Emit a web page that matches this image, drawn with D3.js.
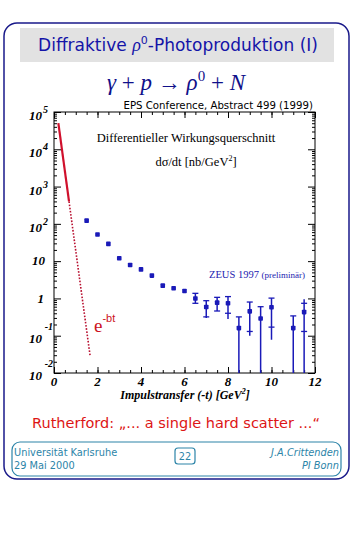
<!DOCTYPE html>
<html>
<head>
<meta charset="utf-8">
<script src="https://cdn.jsdelivr.net/npm/d3@7.9.0/dist/d3.min.js"></script>
<style>
  body { margin: 0; background: #fff; }
  svg { display: block; }
</style>
</head>
<body>
<svg id="slide" width="363" height="535"></svg>
<script>
// ZEUS 1997 (preliminary) rho0 photoproduction, d sigma/dt vs -t
const tValues = [1.5, 2.0, 2.5, 3.0, 3.5, 4.0, 4.5, 5.0, 5.5, 6.0, 6.5, 7.0, 7.5, 8.0, 8.5, 9.0, 9.5, 10.0, 11.0, 11.5];
const sigma   = [122, 52, 29, 12, 7.9, 6.0, 4.1, 2.2, 1.87, 1.58, 1.0, 0.59, 0.77, 0.74, 0.16, 0.45, 0.29, 0.58, 0.16, 0.43];
// statistical error band (inner ticks)
const statHi  = [128, 55, 31, 12.8, 8.4, 6.4, 4.6, 2.6, 2.15, 1.85, 1.37, 0.87, 1.07, 1.12, 0.32, 0.80, 0.60, 1.02, 0.34, 0.74];
const statLo  = [116, 49, 27, 11.2, 7.4, 5.6, 3.6, 1.85, 1.6, 1.32, 0.74, 0.32, 0.46, 0.40, 0.001, 0.13, 0.001, 0.17, 0.001, 0.13];
// total error (line extent)
const totHi   = [128, 55, 31, 12.8, 8.4, 6.4, 4.6, 2.6, 2.15, 1.85, 1.37, 0.87, 1.07, 1.12, 0.32, 0.80, 0.60, 1.02, 0.34, 0.95];
const totLo   = [116, 49, 27, 11.2, 7.4, 5.6, 3.6, 1.85, 1.6, 1.32, 0.74, 0.30, 0.46, 0.28, 0.001, 0.10, 0.001, 0.078, 0.001, 0.001];

// exponential e^-bt
const expSolid  = [[0.2, 50000], [0.69, 400]];
const expDotted = [[0.69, 400], [1.66, 0.029]];

const yExponents = [5, 4, 3, 2, 1, 0, -1, -2];
const xTickLabels = [0, 2, 4, 6, 8, 10, 12];

const svg = d3.select('#slide');
const darkBlue = '#1a1a8a';
const teal = '#2c84a8';

// slide frame
svg.append('rect')
  .attr('x', 4).attr('y', 23).attr('width', 345).attr('height', 456)
  .attr('rx', 13).attr('fill', 'none')
  .attr('stroke', darkBlue).attr('stroke-width', 1.5);

// title bar
svg.append('rect')
  .attr('x', 20).attr('y', 28).attr('width', 314).attr('height', 34)
  .attr('fill', '#e2e2e2');
const title = svg.append('text')
  .attr('x', 178).attr('y', 51).attr('text-anchor', 'middle')
  .attr('font-family', 'DejaVu Sans').attr('font-size', 17)
  .attr('fill', '#1414a8');
title.append('tspan').text('Diffraktive ');
title.append('tspan').attr('font-family', 'Liberation Serif').attr('font-style', 'italic').attr('font-size', 18).text('ρ');
title.append('tspan').attr('font-size', 11).attr('dy', -7).text('0');
title.append('tspan').attr('dy', 7).text('-Photoproduktion (I)');

// reaction formula
const formula = svg.append('text')
  .attr('x', 176).attr('y', 90).attr('text-anchor', 'middle')
  .attr('font-family', 'Liberation Serif').attr('font-size', 23)
  .attr('fill', '#10108a');
formula.append('tspan').attr('font-style', 'italic').text('γ');
formula.append('tspan').text(' + ');
formula.append('tspan').attr('font-style', 'italic').text('p');
formula.append('tspan').text(' → ');
formula.append('tspan').attr('font-style', 'italic').text('ρ');
formula.append('tspan').attr('font-size', 15).attr('dy', -9).text('0');
formula.append('tspan').attr('dy', 9).text(' + ');
formula.append('tspan').attr('font-style', 'italic').text('N');

// plot
const x = d3.scaleLinear().domain([0, 12]).range([54, 315]);
const y = d3.scaleLog().domain([1e-2, 1e5]).range([373, 112]).clamp(true);

const plot = svg.append('g');

// minor/major ticks
const xMinor = d3.range(0, 12.01, 0.5);
const xMajor = xMinor.filter(v => v % 2 === 0);
const yMajor = yExponents.map(e => Math.pow(10, e));
const yMinor = [];
for (let e = -2; e < 5; e++) for (let k = 2; k <= 9; k++) yMinor.push(k * Math.pow(10, e));

const tickGroup = (axis, transform) => {
  const g = plot.append('g').attr('transform', transform).call(axis);
  g.select('.domain').remove();
  g.selectAll('text').remove();
  g.selectAll('line').attr('stroke', '#000').attr('stroke-width', 1);
  return g;
};

tickGroup(d3.axisBottom(x).tickValues(xMinor).tickSize(-3), `translate(0,${y(1e-2)})`);
tickGroup(d3.axisBottom(x).tickValues(xMajor).tickSize(-6), `translate(0,${y(1e-2)})`);
tickGroup(d3.axisTop(x).tickValues(xMinor).tickSize(-3), `translate(0,${y(1e5)})`);
tickGroup(d3.axisTop(x).tickValues(xMajor).tickSize(-6), `translate(0,${y(1e5)})`);
tickGroup(d3.axisLeft(y).tickValues(yMinor).tickSize(-3), `translate(${x(0)},0)`);
tickGroup(d3.axisLeft(y).tickValues(yMajor).tickSize(-7), `translate(${x(0)},0)`);
tickGroup(d3.axisRight(y).tickValues(yMinor).tickSize(-3), `translate(${x(12)},0)`);
tickGroup(d3.axisRight(y).tickValues(yMajor).tickSize(-7), `translate(${x(12)},0)`);

plot.append('rect')
  .attr('x', x(0)).attr('y', y(1e5))
  .attr('width', x(12) - x(0)).attr('height', y(1e-2) - y(1e5))
  .attr('fill', 'none').attr('stroke', '#000').attr('stroke-width', 1);

// y labels
const labelFont = 'Liberation Serif';
yExponents.forEach(e => {
  const ty = y(Math.pow(10, e));
  const t = plot.append('text')
    .attr('font-family', labelFont).attr('font-weight', 'bold').attr('font-style', 'italic')
    .attr('font-size', 13).attr('fill', '#000');
  if (e >= 2) {
    t.attr('x', 42).attr('y', ty + 8).attr('text-anchor', 'end').text('10');
    plot.append('text')
      .attr('x', 43).attr('y', ty + 1)
      .attr('font-family', labelFont).attr('font-style', 'italic').attr('font-weight', 'bold')
      .attr('font-size', 10).text(e);
  } else if (e === 1) {
    t.attr('x', 45).attr('y', ty + 4).attr('text-anchor', 'end').text('10');
  } else if (e === 0) {
    t.attr('x', 44).attr('y', ty + 5).attr('text-anchor', 'end').text('1');
  } else {
    t.attr('x', 42).attr('y', ty + 7).attr('text-anchor', 'end').text('10');
    plot.append('text')
      .attr('x', 53).attr('y', ty - 6).attr('text-anchor', 'end')
      .attr('font-family', labelFont).attr('font-style', 'italic').attr('font-weight', 'bold')
      .attr('font-size', 10).text(e);
  }
});

// x labels
plot.selectAll('.xlab').data(xTickLabels).join('text')
  .attr('x', d => x(d)).attr('y', 386)
  .attr('text-anchor', 'middle')
  .attr('font-family', labelFont).attr('font-weight', 'bold').attr('font-style', 'italic')
  .attr('font-size', 13).text(d => d);

const xTitle = plot.append('text')
  .attr('x', 185).attr('y', 399).attr('text-anchor', 'middle')
  .attr('font-family', labelFont).attr('font-weight', 'bold').attr('font-style', 'italic')
  .attr('font-size', 12);
xTitle.append('tspan').text('Impulstransfer (-t) [GeV');
xTitle.append('tspan').attr('font-size', 8).attr('dy', -5).text('2');
xTitle.append('tspan').attr('dy', 5).text(']');

// header text above frame
plot.append('text')
  .attr('x', 313).attr('y', 109).attr('text-anchor', 'end')
  .attr('font-family', 'DejaVu Sans').attr('font-size', 10.2)
  .text('EPS Conference, Abstract 499 (1999)');

plot.append('text')
  .attr('x', 186).attr('y', 142).attr('text-anchor', 'middle')
  .attr('font-family', labelFont).attr('font-size', 12.5)
  .text('Differentieller Wirkungsquerschnitt');
const dsig = plot.append('text')
  .attr('x', 196).attr('y', 166).attr('text-anchor', 'middle')
  .attr('font-family', labelFont).attr('font-size', 12.5);
dsig.append('tspan').text('dσ/dt [nb/GeV');
dsig.append('tspan').attr('font-size', 8).attr('dy', -5).text('2');
dsig.append('tspan').attr('dy', 5).text(']');

const zeus = plot.append('text')
  .attr('x', 209).attr('y', 278)
  .attr('font-family', labelFont).attr('font-size', 10.5).attr('fill', '#1c1cb0');
zeus.append('tspan').text('ZEUS 1997 ');
zeus.append('tspan').attr('font-size', 9).text('(preliminär)');

// exponential line
const line = d3.line().x(d => x(d[0])).y(d => y(d[1]));
plot.append('path').attr('d', line(expSolid))
  .attr('fill', 'none').attr('stroke', '#d0102c').attr('stroke-width', 2.2);
plot.append('path').attr('d', line(expDotted))
  .attr('fill', 'none').attr('stroke', '#b81030').attr('stroke-width', 1.6)
  .attr('stroke-dasharray', '1.6,1.6');

const ebt = plot.append('text')
  .attr('x', 94).attr('y', 332)
  .attr('font-family', labelFont).attr('font-size', 19).attr('fill', '#cc1122');
ebt.append('tspan').text('e');
ebt.append('tspan').attr('font-family', 'Liberation Sans').attr('font-size', 11).attr('dy', -10).text('-bt');

// data points
const pts = tValues.map((t, i) => ({
  t, v: sigma[i], sh: statHi[i], sl: statLo[i], th: totHi[i], tl: totLo[i]
}));
const blue = '#1a1ab8';
const pg = plot.append('g');
pts.forEach(d => {
  const cx = x(d.t);
  if (y(d.tl) - y(d.th) > 6) {
    pg.append('line')
      .attr('x1', cx).attr('x2', cx).attr('y1', y(d.th)).attr('y2', y(d.tl))
      .attr('stroke', blue).attr('stroke-width', 1.5);
    [d.sh, d.sl].forEach(v => {
      if (v > 0.011) {
        pg.append('line')
          .attr('x1', cx - 3).attr('x2', cx + 3).attr('y1', y(v)).attr('y2', y(v))
          .attr('stroke', blue).attr('stroke-width', 1.3);
      }
    });
  }
  pg.append('rect')
    .attr('x', cx - 2.3).attr('y', y(d.v) - 2.3).attr('width', 4.6).attr('height', 4.6)
    .attr('rx', 0.8).attr('fill', blue);
});

// Rutherford quote
svg.append('text')
  .attr('x', 176).attr('y', 428).attr('text-anchor', 'middle')
  .attr('font-family', 'DejaVu Sans').attr('font-size', 14.5).attr('fill', '#dd1515')
  .text('Rutherford: „... a single hard scatter ...“');

// footer
svg.append('rect')
  .attr('x', 12).attr('y', 442).attr('width', 329).attr('height', 34)
  .attr('rx', 8).attr('fill', 'none').attr('stroke', teal).attr('stroke-width', 1.2);
svg.append('rect')
  .attr('x', 175).attr('y', 448).attr('width', 20).attr('height', 16)
  .attr('rx', 3).attr('fill', 'none').attr('stroke', teal).attr('stroke-width', 1.2);
const foot = (txt, xp, yp, anchor, italic) => svg.append('text')
  .attr('x', xp).attr('y', yp).attr('text-anchor', anchor)
  .attr('font-family', 'DejaVu Sans').attr('font-size', 9.8)
  .attr('font-style', italic ? 'italic' : 'normal')
  .attr('fill', teal).text(txt);
foot('Universität Karlsruhe', 14, 456, 'start', false);
foot('29 Mai 2000', 14, 469, 'start', false);
foot('22', 185, 460, 'middle', false);
foot('J.A.Crittenden', 339, 456, 'end', true);
foot('PI Bonn', 339, 469, 'end', true);
</script>
</body>
</html>
